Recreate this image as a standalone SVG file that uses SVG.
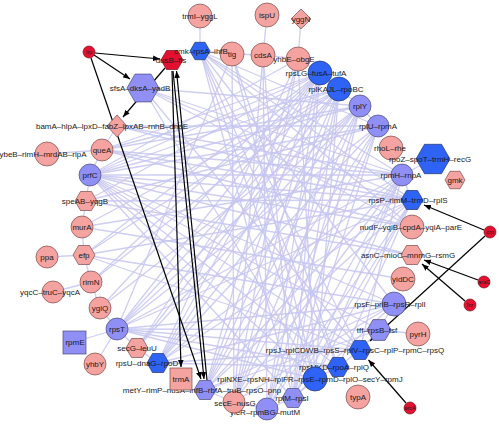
<svg xmlns="http://www.w3.org/2000/svg" width="499" height="427" viewBox="0 0 499 427">
<style>
.e line{stroke:#c6c6f1;stroke-width:1.3;opacity:0.85}
.a line{stroke:#000;stroke-width:1.2;marker-end:url(#ah)}
.pk{fill:#f5a3a0;stroke:#7a4a4a;stroke-width:0.7}
.lb{fill:#8f8ff6;stroke:#4a4a7a;stroke-width:0.7}
.db{fill:#2f63f5;stroke:#22336a;stroke-width:0.7}
.rd{fill:#e3102f;stroke:#7a1020;stroke-width:0.7}
text{font-family:"Liberation Sans",Arial,sans-serif;font-size:8px;fill:#1a1a1a;text-anchor:middle}
.s{font-size:5.5px}
</style>
<defs>
<marker id="ah" viewBox="0 0 10 10" refX="10" refY="5" markerWidth="7" markerHeight="7" markerUnits="userSpaceOnUse" orient="auto"><path d="M0,1L10,5L0,9z" fill="#000"/></marker>
</defs>
<rect width="499" height="427" fill="#fff"/>
<g id="edges" class="e">
<line x1="200" y1="16" x2="200" y2="51"/>
<line x1="267" y1="15" x2="263" y2="55"/>
<line x1="301" y1="19" x2="298" y2="59"/>
<line x1="200" y1="51" x2="232" y2="54"/>
<line x1="232" y1="54" x2="263" y2="55"/>
<line x1="263" y1="55" x2="298" y2="59"/>
<line x1="298" y1="59" x2="320" y2="73"/>
<line x1="320" y1="73" x2="339" y2="89"/>
<line x1="339" y1="89" x2="360" y2="106"/>
<line x1="360" y1="106" x2="378" y2="126"/>
<line x1="433" y1="159" x2="402" y2="175"/>
<line x1="402" y1="175" x2="412" y2="200"/>
<line x1="394" y1="304" x2="379" y2="330"/>
<line x1="379" y1="330" x2="418" y2="334"/>
<line x1="379" y1="330" x2="360" y2="350"/>
<line x1="360" y1="350" x2="338" y2="367"/>
<line x1="338" y1="367" x2="315" y2="379"/>
<line x1="315" y1="379" x2="293" y2="398"/>
<line x1="293" y1="398" x2="267" y2="409"/>
<line x1="267" y1="409" x2="234" y2="402"/>
<line x1="234" y1="402" x2="205" y2="390"/>
<line x1="47" y1="154" x2="102" y2="150"/>
<line x1="102" y1="150" x2="90" y2="175"/>
<line x1="90" y1="175" x2="86" y2="201"/>
<line x1="86" y1="201" x2="82" y2="227"/>
<line x1="82" y1="227" x2="84" y2="255"/>
<line x1="47" y1="257" x2="84" y2="255"/>
<line x1="84" y1="255" x2="91" y2="282"/>
<line x1="91" y1="282" x2="53" y2="292"/>
<line x1="91" y1="282" x2="100" y2="308"/>
<line x1="100" y1="308" x2="117" y2="329"/>
<line x1="117" y1="329" x2="75" y2="342"/>
<line x1="117" y1="329" x2="95" y2="364"/>
<line x1="117" y1="329" x2="137" y2="348"/>
<line x1="137" y1="348" x2="158" y2="363"/>
<line x1="117" y1="126" x2="102" y2="150"/>
<line x1="200" y1="51" x2="412" y2="200"/>
<line x1="200" y1="51" x2="402" y2="175"/>
<line x1="200" y1="51" x2="378" y2="126"/>
<line x1="200" y1="51" x2="412" y2="227"/>
<line x1="200" y1="51" x2="394" y2="304"/>
<line x1="200" y1="51" x2="360" y2="350"/>
<line x1="200" y1="51" x2="338" y2="367"/>
<line x1="200" y1="51" x2="315" y2="379"/>
<line x1="200" y1="51" x2="293" y2="398"/>
<line x1="232" y1="54" x2="338" y2="367"/>
<line x1="232" y1="54" x2="234" y2="402"/>
<line x1="232" y1="54" x2="315" y2="379"/>
<line x1="232" y1="54" x2="117" y2="329"/>
<line x1="263" y1="55" x2="234" y2="402"/>
<line x1="263" y1="55" x2="293" y2="398"/>
<line x1="263" y1="55" x2="267" y2="409"/>
<line x1="298" y1="59" x2="205" y2="390"/>
<line x1="298" y1="59" x2="158" y2="363"/>
<line x1="298" y1="59" x2="234" y2="402"/>
<line x1="298" y1="59" x2="315" y2="379"/>
<line x1="298" y1="59" x2="90" y2="175"/>
<line x1="320" y1="73" x2="205" y2="390"/>
<line x1="320" y1="73" x2="234" y2="402"/>
<line x1="320" y1="73" x2="158" y2="363"/>
<line x1="320" y1="73" x2="293" y2="398"/>
<line x1="320" y1="73" x2="117" y2="329"/>
<line x1="320" y1="73" x2="90" y2="175"/>
<line x1="320" y1="73" x2="86" y2="201"/>
<line x1="320" y1="73" x2="84" y2="255"/>
<line x1="320" y1="73" x2="91" y2="282"/>
<line x1="320" y1="73" x2="100" y2="308"/>
<line x1="320" y1="73" x2="137" y2="348"/>
<line x1="320" y1="73" x2="267" y2="409"/>
<line x1="320" y1="73" x2="102" y2="150"/>
<line x1="339" y1="89" x2="205" y2="390"/>
<line x1="339" y1="89" x2="267" y2="409"/>
<line x1="339" y1="89" x2="158" y2="363"/>
<line x1="339" y1="89" x2="117" y2="329"/>
<line x1="339" y1="89" x2="137" y2="348"/>
<line x1="339" y1="89" x2="102" y2="150"/>
<line x1="339" y1="89" x2="90" y2="175"/>
<line x1="339" y1="89" x2="82" y2="227"/>
<line x1="339" y1="89" x2="84" y2="255"/>
<line x1="339" y1="89" x2="91" y2="282"/>
<line x1="339" y1="89" x2="293" y2="398"/>
<line x1="339" y1="89" x2="234" y2="402"/>
<line x1="339" y1="89" x2="315" y2="379"/>
<line x1="360" y1="106" x2="143" y2="88"/>
<line x1="360" y1="106" x2="90" y2="175"/>
<line x1="360" y1="106" x2="117" y2="329"/>
<line x1="360" y1="106" x2="158" y2="363"/>
<line x1="360" y1="106" x2="205" y2="390"/>
<line x1="360" y1="106" x2="234" y2="402"/>
<line x1="360" y1="106" x2="267" y2="409"/>
<line x1="360" y1="106" x2="293" y2="398"/>
<line x1="360" y1="106" x2="102" y2="150"/>
<line x1="360" y1="106" x2="100" y2="308"/>
<line x1="360" y1="106" x2="137" y2="348"/>
<line x1="378" y1="126" x2="117" y2="126"/>
<line x1="378" y1="126" x2="90" y2="175"/>
<line x1="378" y1="126" x2="117" y2="329"/>
<line x1="378" y1="126" x2="158" y2="363"/>
<line x1="378" y1="126" x2="205" y2="390"/>
<line x1="378" y1="126" x2="234" y2="402"/>
<line x1="378" y1="126" x2="267" y2="409"/>
<line x1="378" y1="126" x2="293" y2="398"/>
<line x1="378" y1="126" x2="86" y2="201"/>
<line x1="402" y1="175" x2="143" y2="88"/>
<line x1="402" y1="175" x2="102" y2="150"/>
<line x1="402" y1="175" x2="90" y2="175"/>
<line x1="402" y1="175" x2="82" y2="227"/>
<line x1="402" y1="175" x2="117" y2="329"/>
<line x1="402" y1="175" x2="158" y2="363"/>
<line x1="402" y1="175" x2="205" y2="390"/>
<line x1="402" y1="175" x2="234" y2="402"/>
<line x1="402" y1="175" x2="267" y2="409"/>
<line x1="402" y1="175" x2="293" y2="398"/>
<line x1="402" y1="175" x2="315" y2="379"/>
<line x1="402" y1="175" x2="360" y2="350"/>
<line x1="402" y1="175" x2="117" y2="126"/>
<line x1="412" y1="200" x2="143" y2="88"/>
<line x1="412" y1="200" x2="117" y2="126"/>
<line x1="412" y1="200" x2="102" y2="150"/>
<line x1="412" y1="200" x2="90" y2="175"/>
<line x1="412" y1="200" x2="86" y2="201"/>
<line x1="412" y1="200" x2="84" y2="255"/>
<line x1="412" y1="200" x2="117" y2="329"/>
<line x1="412" y1="200" x2="158" y2="363"/>
<line x1="412" y1="200" x2="205" y2="390"/>
<line x1="412" y1="200" x2="267" y2="409"/>
<line x1="412" y1="200" x2="293" y2="398"/>
<line x1="412" y1="200" x2="315" y2="379"/>
<line x1="412" y1="200" x2="338" y2="367"/>
<line x1="412" y1="227" x2="143" y2="88"/>
<line x1="412" y1="227" x2="102" y2="150"/>
<line x1="412" y1="227" x2="90" y2="175"/>
<line x1="412" y1="255" x2="86" y2="201"/>
<line x1="412" y1="255" x2="90" y2="175"/>
<line x1="403" y1="279" x2="82" y2="227"/>
<line x1="394" y1="304" x2="90" y2="175"/>
<line x1="394" y1="304" x2="84" y2="255"/>
<line x1="394" y1="304" x2="117" y2="329"/>
<line x1="394" y1="304" x2="158" y2="363"/>
<line x1="394" y1="304" x2="205" y2="390"/>
<line x1="394" y1="304" x2="234" y2="402"/>
<line x1="394" y1="304" x2="293" y2="398"/>
<line x1="379" y1="330" x2="90" y2="175"/>
<line x1="379" y1="330" x2="117" y2="329"/>
<line x1="379" y1="330" x2="205" y2="390"/>
<line x1="360" y1="350" x2="90" y2="175"/>
<line x1="360" y1="350" x2="84" y2="255"/>
<line x1="360" y1="350" x2="117" y2="329"/>
<line x1="360" y1="350" x2="158" y2="363"/>
<line x1="360" y1="350" x2="143" y2="88"/>
<line x1="338" y1="367" x2="90" y2="175"/>
<line x1="338" y1="367" x2="117" y2="329"/>
<line x1="338" y1="367" x2="158" y2="363"/>
<line x1="315" y1="379" x2="90" y2="175"/>
<line x1="315" y1="379" x2="117" y2="329"/>
<line x1="315" y1="379" x2="143" y2="88"/>
<line x1="293" y1="398" x2="90" y2="175"/>
</g>
<g id="arrows" class="a">
<line x1="95" y1="53" x2="160" y2="59"/>
<line x1="94" y1="55" x2="130" y2="79"/>
<line x1="91" y1="58" x2="201" y2="379"/>
<line x1="165" y1="68" x2="123" y2="117"/>
<line x1="172" y1="71" x2="181" y2="367"/>
<line x1="173" y1="71" x2="204" y2="379"/>
<line x1="207" y1="380" x2="176.5" y2="71"/>
<line x1="484" y1="230" x2="424" y2="205"/>
<line x1="485" y1="236" x2="370" y2="341"/>
<line x1="478" y1="280" x2="424" y2="260"/>
<line x1="465" y1="301" x2="422" y2="264"/>
<line x1="406" y1="403" x2="368.5" y2="360"/>
</g>
<g id="n_trmI"><circle class="pk" cx="200" cy="16" r="12"/><text x="200" y="19">trmI–yggL</text></g>
<g id="n_ispU"><circle class="pk" cx="267" cy="15" r="12"/><text x="267" y="18">ispU</text></g>
<g id="n_yggN"><polygon class="pk" points="301,9 311,19 301,29 291,19"/><text x="301" y="22">yggN</text></g>
<g id="n_tig"><circle class="pk" cx="232" cy="54" r="12"/><text x="232" y="57">tig</text></g>
<g id="n_cdsA"><circle class="pk" cx="263" cy="55" r="12"/><text x="263" y="58">cdsA</text></g>
<g id="n_yhbE"><circle class="pk" cx="298" cy="59" r="12"/><text x="294" y="62">yhbE–obgE</text></g>
<g id="n_fis"><polygon class="rd" points="161,60 166.5,50.5 177.5,50.5 183,60 177.5,69.5 166.5,69.5"/><text x="171" y="63">dusB–fis</text></g>
<g id="n_cmk"><polygon class="db" points="190,51 195,42.3 205,42.3 210,51 205,59.7 195,59.7"/><text x="201" y="54">cmk–rpsA–ihfB</text></g>
<g id="n_lrp"><circle class="rd" cx="89" cy="52" r="6"/><text class="s" x="89" y="54">lrp</text></g>
<g id="n_sfsA"><polygon class="lb" points="127,88 135,74.1 151,74.1 159,88 151,101.9 135,101.9"/><text x="140" y="91">sfsA–dksA–yadB</text></g>
<g id="n_rpsLG"><circle class="db" cx="320" cy="73" r="12"/><text x="316" y="76">rpsLG–fusA–tufA</text></g>
<g id="n_rplKAJL"><circle class="db" cx="339" cy="89" r="12"/><text x="336" y="92">rplKAJL–rpoBC</text></g>
<g id="n_rplY"><circle class="lb" cx="360" cy="106" r="11"/><text x="360" y="109">rplY</text></g>
<g id="n_rplU"><circle class="lb" cx="378" cy="126" r="11"/><text x="378" y="129">rplU–rpmA</text></g>
<g id="n_rhoL"><circle class="pk" cx="391" cy="148" r="12"/><text x="390" y="151">rhoL–rhe</text></g>
<g id="n_rpoZ"><polygon class="db" points="416,159 424.5,144.3 441.5,144.3 450,159 441.5,173.7 424.5,173.7"/><text x="430" y="162">rpoZ–spoT–trmH–recG</text></g>
<g id="n_gmk"><polygon class="pk" points="445,180 450,171.3 460,171.3 465,180 460,188.7 450,188.7"/><text x="455" y="183">gmk</text></g>
<g id="n_rpmH"><circle class="lb" cx="402" cy="175" r="11"/><text x="401" y="178">rpmH–rnpA</text></g>
<g id="n_rpsP"><polygon class="db" points="401,200 406.5,190.5 417.5,190.5 423,200 417.5,209.5 406.5,209.5"/><text x="408" y="203">rpsP–rimM–trmD–rplS</text></g>
<g id="n_nudF"><circle class="pk" cx="412" cy="227" r="12"/><text x="411" y="230">nudF–yqiB–cpdA–yqiA–parE</text></g>
<g id="n_asnC"><polygon class="pk" points="401,255 406.5,245.5 417.5,245.5 423,255 417.5,264.5 406.5,264.5"/><text x="408" y="258">asnC–mioC–mnmG–rsmG</text></g>
<g id="n_yidDC"><circle class="pk" cx="403" cy="279" r="12"/><text x="403" y="282">yidDC</text></g>
<g id="n_crp"><circle class="rd" cx="490" cy="232" r="6"/><text class="s" x="490" y="234">crp</text></g>
<g id="n_araC"><circle class="rd" cx="484" cy="282" r="6"/><text class="s" x="484" y="284">araC</text></g>
<g id="n_fnr"><circle class="rd" cx="470" cy="305" r="6"/><text class="s" x="470" y="307">fnr</text></g>
<g id="n_rpsF"><circle class="lb" cx="394" cy="304" r="12"/><text x="390" y="307">rpsF–priB–rpsR–rplI</text></g>
<g id="n_pyrH"><circle class="pk" cx="418" cy="334" r="12"/><text x="418" y="337">pyrH</text></g>
<g id="n_tsf"><polygon class="lb" points="367,330 373,319.6 385,319.6 391,330 385,340.4 373,340.4"/><text x="377" y="333">tff–rpsB–tsf</text></g>
<g id="n_rplV"><polygon class="db" points="349,350 354.5,340.5 365.5,340.5 371,350 365.5,359.5 354.5,359.5"/><text x="355" y="353">rpsJ–rplCDWB–rpsS–rplV–rpsC–rplP–rpmC–rpsQ</text></g>
<g id="n_rpsMKD"><polygon class="db" points="327,367 332.5,357.5 343.5,357.5 349,367 343.5,376.5 332.5,376.5"/><text x="334" y="370">rpsMKD–rpoA–rplQ</text></g>
<g id="n_rplNXE"><circle class="db" cx="315" cy="379" r="12"/><text x="310" y="382">rplNXE–rpsNH–rplFR–rpsE–rpmD–rplO–secY–rpmJ</text></g>
<g id="n_typA"><circle class="pk" cx="358" cy="397" r="12"/><text x="358" y="400">typA</text></g>
<g id="n_arcA"><circle class="rd" cx="410" cy="408" r="6"/><text class="s" x="410" y="410">arcA</text></g>
<g id="n_rplM"><polygon class="lb" points="282,398 287.5,388.5 298.5,388.5 304,398 298.5,407.5 287.5,407.5"/><text x="292" y="401">rplM–rpsI</text></g>
<g id="n_yieR"><circle class="lb" cx="267" cy="409" r="11"/><text x="265" y="415">yieR–rpmBG–mutM</text></g>
<g id="n_secE"><circle class="pk" cx="234" cy="402" r="11"/><text x="235" y="406">secE–nusG</text></g>
<g id="n_metY"><polygon class="lb" points="194,390 199.5,380.5 210.5,380.5 216,390 210.5,399.5 199.5,399.5"/><text x="202" y="393">metY–rimP–nusA–infB–rbfA–truB–rpsO–pnp</text></g>
<g id="n_trmA"><rect class="pk" x="170" y="368" width="22" height="22"/><text x="181" y="382">trmA</text></g>
<g id="n_rpsU"><polygon class="db" points="147,363 152.5,353.5 163.5,353.5 169,363 163.5,372.5 152.5,372.5"/><text x="147" y="366">rpsU–dnaG–rpoD</text></g>
<g id="n_secG"><polygon class="pk" points="126,348 131.5,338.5 142.5,338.5 148,348 142.5,357.5 131.5,357.5"/><text x="137" y="351">secG–leuU</text></g>
<g id="n_yhbY"><circle class="pk" cx="95" cy="364" r="11"/><text x="95" y="367">yhbY</text></g>
<g id="n_rpmE"><rect class="lb" x="63" y="331" width="23" height="23"/><text x="75" y="345">rpmE</text></g>
<g id="n_rpsT"><circle class="lb" cx="117" cy="329" r="11"/><text x="117" y="332">rpsT</text></g>
<g id="n_ygiQ"><circle class="pk" cx="100" cy="308" r="11"/><text x="100" y="311">ygiQ</text></g>
<g id="n_yqcC"><circle class="pk" cx="53" cy="292" r="11"/><text x="50" y="295">yqcC–truC–yqcA</text></g>
<g id="n_rimN"><circle class="pk" cx="91" cy="282" r="11"/><text x="91" y="285">rimN</text></g>
<g id="n_ppa"><circle class="pk" cx="47" cy="257" r="11"/><text x="47" y="260">ppa</text></g>
<g id="n_efp"><polygon class="pk" points="73,255 78.5,245.5 89.5,245.5 95,255 89.5,264.5 78.5,264.5"/><text x="84" y="258">efp</text></g>
<g id="n_murA"><circle class="pk" cx="82" cy="227" r="11"/><text x="82" y="230">murA</text></g>
<g id="n_speAB"><polygon class="pk" points="75,201 80.5,191.5 91.5,191.5 97,201 91.5,210.5 80.5,210.5"/><text x="85" y="204">speAB–yqgB</text></g>
<g id="n_prfC"><circle class="lb" cx="90" cy="175" r="11"/><text x="90" y="178">prfC</text></g>
<g id="n_queA"><circle class="pk" cx="102" cy="150" r="11"/><text x="102" y="153">queA</text></g>
<g id="n_ybeB"><circle class="pk" cx="47" cy="154" r="12"/><text x="43" y="157">ybeB–rimH–mrdAB–ripA</text></g>
<g id="n_bamA"><polygon class="pk" points="117,115 127,126 117,137 107,126"/><text x="112" y="129">bamA–hlpA–lpxD–fabZ–lpxAB–rnhB–dnaE</text></g>
</svg>
